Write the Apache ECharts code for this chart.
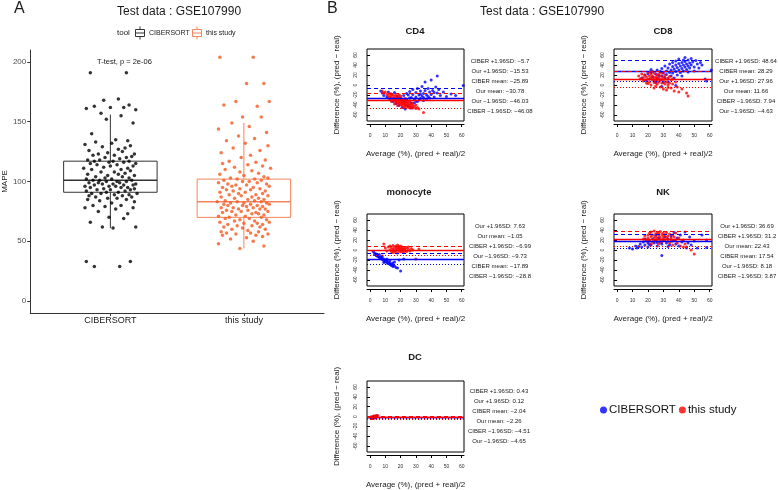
<!DOCTYPE html>
<html>
<head>
<meta charset="utf-8">
<title>Test data : GSE107990</title>
<script src="https://cdn.jsdelivr.net/npm/echarts@6/dist/echarts.min.js"></script>
<style>
  html, body { margin: 0; padding: 0; background: #fff; }
  #chart { width: 778px; height: 490px; }
</style>
</head>
<body>
<div id="chart"></div>
<script>
const FONT = '"Liberation Sans", Arial, sans-serif';

// ---- panel A : MAPE per tool ----
const groups = ['CIBERSORT', 'this study'];
const mapeTicks = [0, 50, 100, 150, 200];
// box stats: [lower whisker, Q1, median, Q3, upper whisker]
const ciberBox = [61, 91, 101, 117, 156];
const oursBox = [44, 70, 83, 102, 149];

const ciberMape = [
  29, 29, 33, 33,
  61, 62, 62, 66, 69, 70, 73, 75, 77, 78, 78, 79, 80, 80, 82, 83, 84, 85, 85, 86, 86, 87, 87, 88, 88, 89, 89, 90, 90, 90,
  91, 91, 92, 92, 93, 93, 93, 94, 94, 95, 95, 95, 96, 96, 96, 97, 97, 97, 98, 98, 98, 99, 99, 99, 100, 100, 100, 101, 101, 101,
  102, 102, 103, 103, 104, 104, 105, 105, 106, 106, 107, 108, 108, 109, 110, 110, 111, 111, 112, 113, 113, 114, 114, 115, 115, 116, 116, 117, 117, 117,
  118, 118, 119, 120, 120, 121, 122, 122, 123, 123, 124, 125, 126, 127, 128, 129, 130, 131, 132, 133, 134, 135, 140, 149, 152, 155,
  157, 160, 161, 162, 162, 163, 164, 168, 169, 191, 191
];
const oursMape = [
  44, 46, 48, 50, 52, 53, 54, 55, 55, 56, 56, 57, 57, 58, 58, 59, 60, 60, 61, 62, 62, 63, 63, 64, 64, 65, 65, 66, 66, 67, 67, 68, 68, 69, 69, 70, 70,
  71, 71, 72, 72, 73, 73, 74, 74, 75, 75, 75, 76, 76, 77, 77, 77, 78, 78, 78, 79, 79, 80, 80, 80, 81, 81, 81, 82, 82, 82, 83, 83, 83, 84, 84, 85, 85,
  86, 86, 87, 87, 88, 88, 89, 89, 90, 90, 91, 91, 92, 92, 93, 93, 94, 94, 95, 95, 96, 96, 97, 97, 98, 98, 99, 99, 100, 100, 101, 101, 102, 102, 103, 103, 104,
  105, 106, 107, 108, 109, 110, 111, 112, 113, 114, 115, 116, 117, 118, 120, 122, 124, 126, 128, 130, 132, 134, 136, 138, 141, 144, 146, 149,
  154, 154, 163, 164, 167, 167, 182, 182, 204, 204
];
// horizontal jitter of the dots (category units)
const jitter = [
  -0.12, 0.07, -0.18, 0.15, 0.02, -0.06, 0.19, -0.15, 0.10, -0.01, 0.13, -0.09, 0.04, -0.19, 0.17, -0.04, 0.08, -0.13, 0.01, 0.18,
  -0.08, 0.12, -0.17, 0.05, -0.02, 0.16, -0.11, 0.09, -0.16, 0.03, 0.14, -0.07, 0.20, -0.14, 0.06, -0.03, 0.11, -0.18, 0.00, 0.15,
  -0.10, 0.18, -0.05, 0.08, -0.15, 0.13, -0.01, 0.04, -0.19, 0.10, -0.12, 0.17, -0.06, 0.02, 0.19, -0.09, 0.07, -0.16, 0.12, -0.03,
  0.05, -0.13, 0.16, -0.08, 0.01, -0.18, 0.14, -0.04, 0.09, -0.11, 0.18, -0.02, 0.06, -0.17, 0.11, -0.07, 0.03, 0.15, -0.14, 0.08,
  -0.20, 0.13, -0.05, 0.00, 0.17, -0.10, 0.05, -0.15, 0.19, -0.01, 0.10, -0.12, 0.02, 0.14, -0.08, -0.17, 0.07, 0.12, -0.04, 0.16,
  -0.13, 0.03, -0.09, 0.18, -0.02, 0.09, -0.16, 0.06, 0.11, -0.06, 0.15, -0.19, 0.01, -0.11, 0.13, 0.04, -0.14, 0.17, -0.03, 0.08,
  -0.07, 0.19, -0.18, 0.10, 0.00, -0.12, 0.14, -0.05, 0.06, -0.15, 0.12, -0.01, 0.16, -0.09, 0.03, -0.17, 0.11, 0.05, -0.13, 0.18,
  -0.06, 0.09, -0.16, 0.14, 0.02, -0.10, 0.07, -0.19, 0.15, -0.03
];

// ---- panel B : Bland-Altman, [average, difference] ----
const avgTicks = [0, 10, 20, 30, 40, 50, 60];
const diffTicks = [-60, -40, -20, 0, 20, 40, 60];

const cd4Ciber = [
  [7, -12], [8, -16], [9, -21], [11, -24], [12, -14], [13, -28], [14, -18], [15, -33], [16, -15], [17, -37], [18, -22], [19, -41],
  [20, -27], [21, -45], [22, -21], [22, -34], [23, -48], [24, -17], [24, -30], [25, -42], [26, -13], [26, -26], [27, -36], [27, -46],
  [28, -19], [28, -9], [29, -29], [30, -15], [30, -24], [31, -7], [31, -33], [32, -20], [33, -12], [33, -27], [34, -3], [34, -22],
  [35, -17], [35, -25], [36, 6], [36, -11], [37, -20], [37, -28], [38, -7], [38, -23], [39, -14], [40, 10], [40, -19], [41, -11],
  [42, -24], [43, -4], [44, 18], [44, -16], [45, -9], [46, -21], [48, -14], [50, -23], [53, -18], [56, -21], [61, -1], [29, -36],
  [25, -20], [32, -30], [35, -31], [39, -26], [42, -15], [30, -32], [27, -25], [33, -18]
];
const cd4Ours = [
  [8, -12], [9, -16], [10, -14], [11, -19], [12, -21], [13, -17], [13, -24], [14, -21], [14, -27], [15, -19], [15, -25], [15, -29],
  [16, -22], [16, -27], [16, -32], [17, -20], [17, -26], [17, -30], [17, -34], [18, -23], [18, -28], [18, -31], [18, -36], [19, -25],
  [19, -29], [19, -33], [19, -37], [20, -26], [20, -31], [20, -35], [20, -39], [21, -28], [21, -33], [21, -37], [21, -41], [22, -30],
  [22, -35], [22, -39], [23, -32], [23, -36], [23, -40], [23, -43], [24, -34], [24, -38], [24, -42], [25, -35], [25, -40], [25, -44],
  [26, -37], [26, -42], [26, -46], [27, -39], [27, -44], [28, -41], [28, -46], [29, -43], [30, -47], [31, -45], [32, -48], [35, -55],
  [16, -38], [20, -22], [24, -29], [14, -33], [18, -41], [22, -45], [26, -32], [28, -36], [12, -26], [30, -40], [19, -20], [23, -27]
];
const cd4CiberLines = [-5.7, -25.89, -46.08];   // +1.96SD, mean, -1.96SD
const cd4OurLines = [-15.53, -30.78, -46.03];

const cd8Ciber = [
  [16, 14], [18, 20], [19, 9], [20, 22], [21, 12], [22, 25], [23, 16], [24, 8], [25, 22], [26, 30], [26, 14], [27, 19],
  [28, 27], [28, 10], [29, 33], [29, 18], [30, 24], [30, 5], [31, 38], [31, 15], [32, 28], [32, 21], [33, 34], [33, 12],
  [34, 42], [34, 25], [35, 30], [35, 18], [36, 37], [36, 45], [36, 24], [37, 32], [37, 14], [38, 40], [38, 27], [38, 48],
  [39, 35], [39, 20], [40, 43], [40, 30], [40, 52], [41, 38], [41, 25], [42, 45], [42, 33], [42, 18], [43, 50], [43, 40],
  [43, 28], [44, 47], [44, 36], [44, 55], [45, 42], [45, 31], [46, 50], [46, 38], [47, 44], [47, 34], [48, 53], [48, 40],
  [49, 46], [50, 36], [51, 49], [52, 42], [53, 34], [54, 45], [55, 40], [57, 12], [58, 8], [61, 30], [25, 5], [22, 31],
  [33, 6], [38, -1], [29, -3], [46, 26], [50, 28]
];
const cd8Ours = [
  [14, 18], [15, 12], [16, 22], [17, 15], [17, 8], [18, 20], [18, 10], [19, 16], [19, 4], [20, 25], [20, 12], [21, 18],
  [21, 6], [22, 14], [22, 22], [22, 0], [23, 10], [23, 18], [23, 27], [24, 5], [24, 14], [24, 24], [25, 8], [25, 16],
  [25, -2], [26, 12], [26, 20], [26, 2], [27, 6], [27, 14], [27, 22], [28, 10], [28, -4], [28, 18], [29, 4], [29, 12],
  [29, 24], [30, 8], [30, 16], [30, -8], [31, 2], [31, 12], [32, 6], [32, -10], [33, 14], [33, 0], [34, 4], [35, -6],
  [35, 10], [36, 2], [37, -12], [38, 6], [39, -4], [40, -14], [42, -8], [45, -16], [46, -22], [20, 3], [24, -6],
  [28, 26], [31, 20], [34, 17], [26, 8], [21, 26], [36, 12], [33, -5]
];
const cd8CiberLines = [48.64, 28.29, 7.94];
const cd8OurLines = [27.96, 11.66, -4.63];

const monoCiber = [
  [2, -3], [3, -6], [3, -9], [4, -8], [4, -11], [5, -10], [5, -13], [6, -12], [6, -15], [7, -14], [7, -17], [8, -16],
  [8, -19], [9, -18], [9, -22], [10, -20], [10, -23], [11, -22], [11, -26], [12, -24], [12, -27], [13, -26], [13, -29], [14, -28],
  [14, -31], [15, -30], [15, -33], [16, -32], [17, -35], [16, -24], [18, -36], [19, -20], [22, -18], [20, -42], [8, -12], [11, -18],
  [6, -9], [9, -25], [13, -21], [15, -26]
];
const monoOurs = [
  [9, 12], [10, 4], [11, -2], [12, 6], [13, 0], [13, 8], [14, -3], [14, 4], [15, 2], [15, -5], [15, 9], [16, 0],
  [16, 6], [16, -4], [17, 3], [17, 8], [17, -2], [18, 1], [18, 5], [18, -6], [18, 10], [19, -1], [19, 4], [19, 7],
  [20, 0], [20, 3], [20, -4], [20, 8], [21, 2], [21, -2], [21, 6], [22, 0], [22, 4], [22, -5], [23, 3], [23, -1],
  [24, 5], [24, -3], [25, 1], [25, 6], [26, -2], [27, 3], [28, 0], [30, -18], [32, 2]
];
const monoCiberLines = [-6.99, -17.89, -28.8];
const monoOurLines = [7.63, -1.05, -9.73];

const nkCiber = [
  [8, 4], [10, 2], [12, 8], [13, 4], [15, 12], [16, 6], [17, 16], [18, 10], [18, 22], [19, 20], [20, 14], [20, 6],
  [21, 18], [22, 10], [23, 22], [24, 14], [25, 19], [25, 30], [26, 8], [27, 24], [28, 16], [29, 12], [29, -11], [30, 20],
  [31, 26], [32, 14], [33, 22], [34, 10], [35, 28], [36, 18], [37, 35], [38, 12], [39, 24], [40, 8], [41, 30], [42, 16],
  [43, 20], [44, 36], [45, 6], [46, 14], [47, 26], [48, 10], [50, 18], [52, 4], [55, 30], [58, 20], [58, 5],
  [14, 7], [21, 11], [26, 15], [33, 7], [37, 19]
];
const nkOurs = [
  [17, 22], [18, 28], [19, 18], [20, 30], [20, 24], [21, 34], [21, 20], [22, 27], [22, 36], [22, 12], [23, 16], [23, 30],
  [24, 24], [24, 38], [24, 20], [25, 32], [25, 27], [26, 18], [26, 35], [26, 23], [27, 29], [27, 33], [27, 12], [28, 25],
  [28, 37], [28, 20], [29, 31], [29, 16], [30, 27], [30, 34], [30, 22], [31, 19], [31, 30], [32, 25], [32, 35], [33, 21],
  [33, 28], [34, 14], [34, 32], [35, 24], [35, 18], [36, 30], [36, 10], [37, 26], [38, 20], [38, 34], [39, 14], [40, 24],
  [41, 8], [42, 18], [43, 6], [44, 12], [45, 4], [48, 0], [50, -8]
];
const nkCiberLines = [31.2, 17.54, 3.87];
const nkOurLines = [36.69, 22.43, 8.18];

const dcCiber = [[0.5, -1], [1, -2], [1.5, -3], [2, -1], [2.5, -2], [3, 0], [1, -4], [2, -3], [3.5, -1], [4, 1]];
const dcOurs = [
  [0.5, -2], [1, -1], [1, -3], [1.5, -2], [2, 0], [2, -4], [2.5, -1], [3, 1], [3, -2], [3.5, 0],
  [4, 2], [4, -1], [4.5, 1], [5, 2], [1.5, -4], [2, -2], [3, -3], [0.8, -1.5], [2.2, 1], [3.8, 0.5]
];
const dcCiberLines = [0.43, -2.04, -4.51];
const dcOurLines = [0.12, -2.26, -4.65];

const BLUE = '#0000FF';
const RED = '#FF0000';
const boxColors = ['#333333', '#F4845C'];
const dotColors = ['#000000', '#F25A22'];

// layout of the five small plots
const panels = [
  { title: 'CD4', left: 367, top: 49, width: 97, titleX: 415, titleY: 31, statX: 500, statY: 61,
    ciber: cd4Ciber, ours: cd4Ours, ciberLines: cd4CiberLines, ourLines: cd4OurLines },
  { title: 'CD8', left: 614, top: 49, width: 98, titleX: 663, titleY: 31, statX: 746, statY: 61,
    ciber: cd8Ciber, ours: cd8Ours, ciberLines: cd8CiberLines, ourLines: cd8OurLines },
  { title: 'monocyte', left: 367, top: 214, width: 97, titleX: 409, titleY: 192, statX: 500, statY: 226,
    ciber: monoCiber, ours: monoOurs, ciberLines: monoCiberLines, ourLines: monoOurLines },
  { title: 'NK', left: 614, top: 214, width: 98, titleX: 663, titleY: 192, statX: 747, statY: 226,
    ciber: nkCiber, ours: nkOurs, ciberLines: nkCiberLines, ourLines: nkOurLines },
  { title: 'DC', left: 367, top: 381, width: 97, titleX: 415, titleY: 357, statX: 499, statY: 391,
    ciber: dcCiber, ours: dcOurs, ciberLines: dcCiberLines, ourLines: dcOurLines }
];

const txt = (text, x, y, size, opts) => Object.assign({
  type: 'text', x: x, y: y, silent: true,
  style: { text: text, fontSize: size, fontFamily: FONT, fill: '#1a1a1a',
    align: 'left', verticalAlign: 'middle', textAlign: 'left', textVerticalAlign: 'middle' }
}, opts || {});

const centered = (text, x, y, size, weight) => {
  const t = txt(text, x, y, size);
  t.style.align = 'center';
  t.style.textAlign = 'center';
  if (weight) t.style.fontWeight = weight;
  return t;
};

const fmt = (v) => String(v).replace('-', '\u2212');

const limitLines = (vals, color) => ({
  symbol: ['none', 'none'],
  silent: true,
  animation: false,
  label: { show: false },
  lineStyle: { color: color, width: 1 },
  data: [
    { yAxis: vals[0], lineStyle: { type: [4, 3] } },
    { yAxis: vals[1], lineStyle: { type: 'solid', width: 3, opacity: 0.25 } },
    { yAxis: vals[1], lineStyle: { type: 'solid' } },
    { yAxis: vals[2], lineStyle: { type: [1, 2] } }
  ]
});

const grids = [{ left: 27, top: 50, width: 297, height: 263 }];
const xAxes = [{
  gridIndex: 0, type: 'value', min: 0.4, max: 2.6,
  axisLine: { onZero: false, lineStyle: { color: '#333', width: 1 } },
  axisTick: { customValues: [1, 2], length: 3, lineStyle: { color: '#333' } },
  axisLabel: { customValues: [1, 2], formatter: (v) => groups[Math.round(v) - 1],
    fontSize: 9, color: '#1a1a1a', fontFamily: FONT, margin: 3 },
  splitLine: { show: false }
}];
const yAxes = [{
  gridIndex: 0, type: 'value', min: -10, max: 210,
  name: 'MAPE', nameLocation: 'middle', nameGap: 17,
  nameTextStyle: { fontSize: 8, color: '#1a1a1a', fontFamily: FONT },
  axisLine: { show: true, lineStyle: { color: '#333', width: 1 } },
  axisTick: { show: true, customValues: mapeTicks, length: 3, lineStyle: { color: '#333' } },
  axisLabel: { customValues: mapeTicks, fontSize: 8, color: '#4d4d4d', fontFamily: FONT, margin: 4 },
  splitLine: { show: false }
}];

const series = [
  {
    name: 'box', type: 'custom', xAxisIndex: 0, yAxisIndex: 0, z: 1,
    data: [[1].concat(ciberBox), [2].concat(oursBox)],
    encode: { x: 0, y: [1, 2, 3, 4, 5] },
    renderItem: (params, api) => {
      const x = api.value(0);
      const c = boxColors[params.dataIndex];
      const lo = api.coord([x, api.value(1)]);
      const q1 = api.coord([x, api.value(2)]);
      const md = api.coord([x, api.value(3)]);
      const q3 = api.coord([x, api.value(4)]);
      const hi = api.coord([x, api.value(5)]);
      const l = api.coord([x - 0.35, 0])[0];
      const r = api.coord([x + 0.35, 0])[0];
      const st = { stroke: c, lineWidth: 1, fill: null };
      return {
        type: 'group',
        children: [
          { type: 'line', shape: { x1: lo[0], y1: lo[1], x2: q1[0], y2: q1[1] }, style: st },
          { type: 'line', shape: { x1: q3[0], y1: q3[1], x2: hi[0], y2: hi[1] }, style: st },
          { type: 'rect', shape: { x: l, y: q3[1], width: r - l, height: q1[1] - q3[1] }, style: st },
          { type: 'line', shape: { x1: l, y1: md[1], x2: r, y2: md[1] }, style: { stroke: c, lineWidth: 1.6 } }
        ]
      };
    }
  },
  {
    name: 'MAPE CIBERSORT', type: 'scatter', xAxisIndex: 0, yAxisIndex: 0, z: 3,
    symbolSize: 3.5, itemStyle: { color: dotColors[0] },
    data: ciberMape.map((v, i) => [1 + jitter[i], v])
  },
  {
    name: 'MAPE this study', type: 'scatter', xAxisIndex: 0, yAxisIndex: 0, z: 3,
    symbolSize: 3.5, itemStyle: { color: dotColors[1] },
    data: oursMape.map((v, i) => [2 + jitter[jitter.length - 1 - i], v])
  }
];

const graphics = [
  txt('A', 14, 9, 16),
  txt('Test data : GSE107990', 117, 12, 12),
  txt('tool', 117, 33, 8),
  txt('CIBERSORT', 149, 33, 7),
  txt('this study', 206, 33, 7),
  txt('T-test, p = 2e-06', 97, 62, 7.5),
  txt('B', 327, 9, 16),
  txt('Test data : GSE107990', 480, 12, 12)
];

// boxplot keys of the panel A legend
[[135.5, boxColors[0]], [192.5, boxColors[1]]].forEach(([x0, c]) => {
  graphics.push({ type: 'rect', silent: true, shape: { x: x0, y: 29.5, width: 9, height: 7 }, style: { stroke: c, fill: '#fff', lineWidth: 1 } });
  graphics.push({ type: 'line', silent: true, shape: { x1: x0, y1: 33, x2: x0 + 9, y2: 33 }, style: { stroke: c, lineWidth: 1 } });
  graphics.push({ type: 'line', silent: true, shape: { x1: x0 + 4.5, y1: 26.5, x2: x0 + 4.5, y2: 29.5 }, style: { stroke: c, lineWidth: 1 } });
  graphics.push({ type: 'line', silent: true, shape: { x1: x0 + 4.5, y1: 36.5, x2: x0 + 4.5, y2: 39.5 }, style: { stroke: c, lineWidth: 1 } });
});

panels.forEach((p, k) => {
  const gi = k + 1;
  grids.push({ left: p.left, top: p.top, width: p.width, height: 72,
    show: true, borderColor: '#000', borderWidth: 1, backgroundColor: 'transparent' });
  xAxes.push({
    gridIndex: gi, type: 'value', min: -2, max: 61.5, offset: 3,
    name: 'Average (%), (pred + real)/2', nameLocation: 'middle', nameGap: 26,
    nameTextStyle: { fontSize: 8, color: '#1a1a1a', fontFamily: FONT },
    axisLine: { show: true, onZero: false, lineStyle: { color: '#000', width: 1 } },
    axisTick: { show: true, customValues: avgTicks, length: 3, lineStyle: { color: '#000' } },
    axisLabel: { customValues: avgTicks, fontSize: 5, color: '#333', fontFamily: FONT, margin: 9 },
    splitLine: { show: false }
  });
  yAxes.push({
    gridIndex: gi, type: 'value', min: -72, max: 72, offset: 4,
    name: 'Difference (%), (pred \u2212 real)', nameLocation: 'middle', nameGap: 22, nameRotate: 90,
    nameTextStyle: { fontSize: 8, color: '#1a1a1a', fontFamily: FONT },
    axisLine: { show: false },
    axisTick: { show: true, customValues: diffTicks, length: 3, lineStyle: { color: '#000' } },
    axisLabel: { customValues: diffTicks, rotate: 90, fontSize: 5, color: '#333', fontFamily: FONT, margin: 5 },
    splitLine: { show: false }
  });
  series.push({
    name: 'CIBERSORT', type: 'scatter', xAxisIndex: gi, yAxisIndex: gi, z: 2,
    symbolSize: 3, itemStyle: { color: BLUE }, data: p.ciber,
    markLine: limitLines(p.ciberLines, BLUE)
  });
  series.push({
    name: 'this study', type: 'scatter', xAxisIndex: gi, yAxisIndex: gi, z: 3,
    symbolSize: 3, itemStyle: { color: RED }, data: p.ours,
    markLine: limitLines(p.ourLines, RED)
  });

  graphics.push(centered(p.title, p.titleX, p.titleY, 9.5, 'bold'));

  const stats = [
    ['CIBER +1.96SD', p.ciberLines[0]], ['Our +1.96SD', p.ourLines[0]],
    ['CIBER mean', p.ciberLines[1]], ['Our mean', p.ourLines[1]],
    ['CIBER \u22121.96SD', p.ciberLines[2]], ['Our \u22121.96SD', p.ourLines[2]]
  ].sort((a, b) => b[1] - a[1]);
  stats.forEach((s, j) => {
    graphics.push(centered(s[0] + ': ' + fmt(s[1]), p.statX, p.statY + j * 10, 6));
  });
});

const chart = echarts.init(document.getElementById('chart'));
chart.setOption({
  backgroundColor: '#fff',
  animation: false,
  textStyle: { fontFamily: FONT },
  grid: grids,
  xAxis: xAxes,
  yAxis: yAxes,
  legend: {
    data: ['CIBERSORT', 'this study'],
    left: 600, top: 404,
    icon: 'circle', itemWidth: 7, itemHeight: 7, itemGap: 3, padding: 0,
    selectedMode: false,
    textStyle: { fontSize: 11.5, color: '#111', fontFamily: FONT, padding: [0, 0, 0, -3] }
  },
  graphic: graphics,
  series: series
});
</script>
</body>
</html>
